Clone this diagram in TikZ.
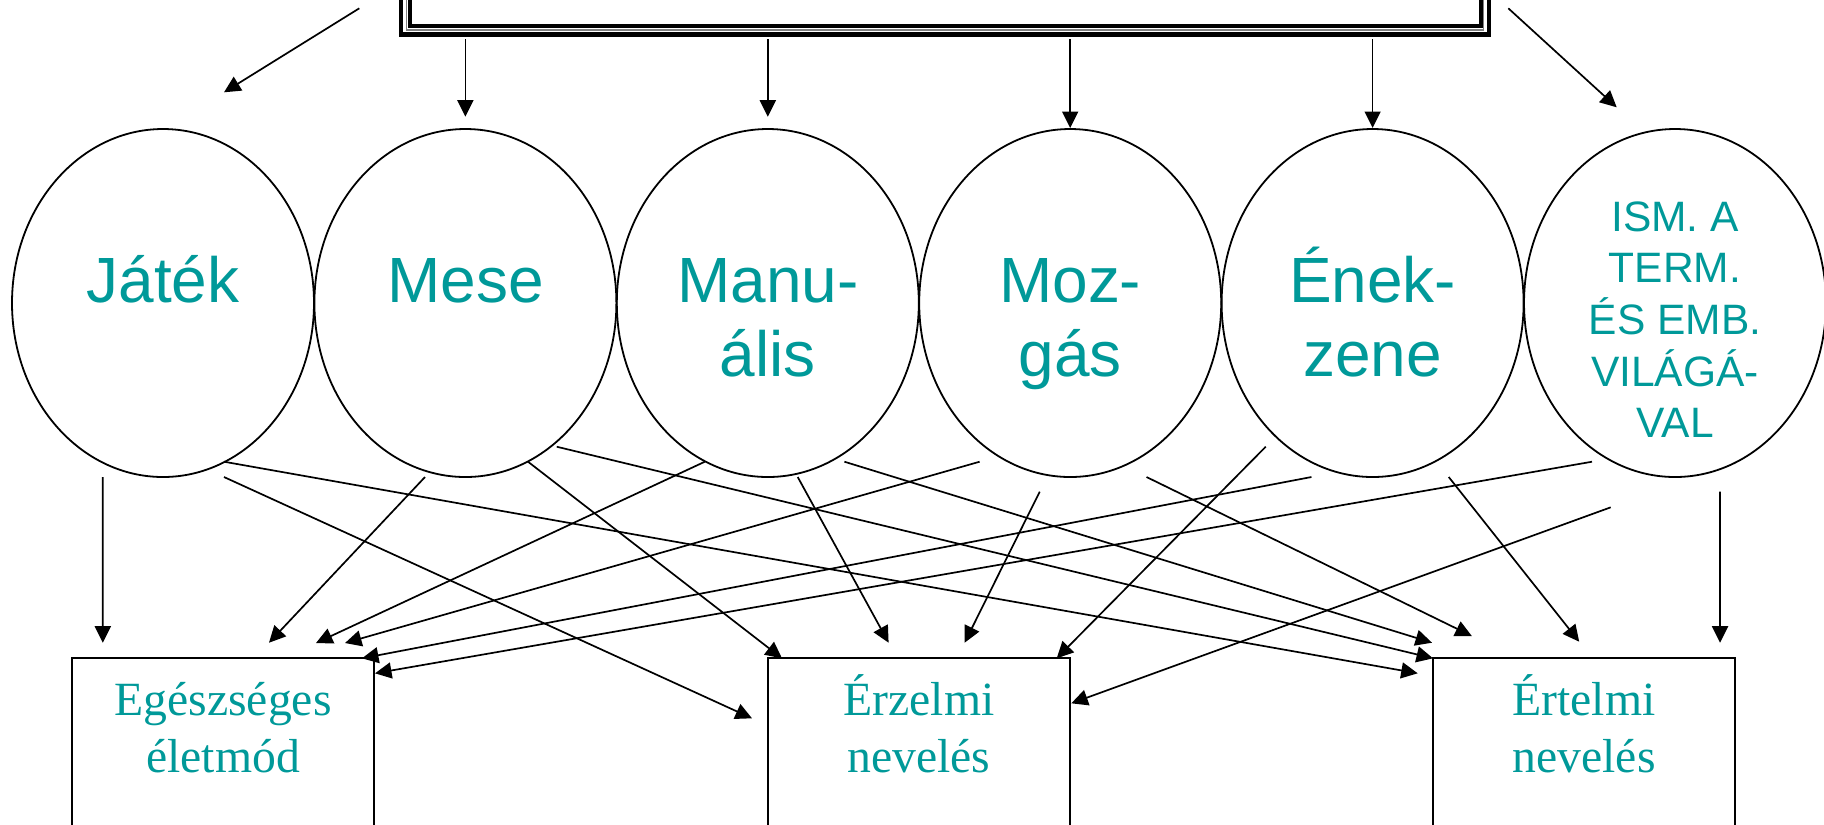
\documentclass[tikz,border=0pt]{standalone}
\usepackage{fontspec}
\usetikzlibrary{shapes.geometric,arrows.meta}
\newfontfamily\arialfont{Liberation Sans}
\newfontfamily\timesfont{Liberation Serif}
\definecolor{turkiz}{RGB}{0,153,153}
\setlength{\tabcolsep}{0pt}
\newcommand{\sorok}[1]{\begin{tabular}[t]{c}#1\end{tabular}}

\begin{document}
\begin{tikzpicture}[x=0.1mm,y=-0.1mm,
	tojas/.style={ellipse, draw, line width=0.18mm, minimum width=30.2mm, minimum height=34.8mm, inner sep=0pt, outer sep=0pt, text=turkiz, text height=1mm, text depth=1.2mm, font=\arialfont\fontsize{18.2pt}{21.3pt}\selectfont},
	kisbetu/.style={text depth=15.26mm, font=\arialfont\fontsize{12.1pt}{14.45pt}\selectfont},
	doboz/.style={rectangle, draw, line width=0.18mm, minimum width=30.2mm, inner sep=0pt, outer sep=0pt, anchor=north, text=turkiz, text height=5.67mm, text depth=12.5mm, font=\timesfont\fontsize{13.57pt}{16.22pt}\selectfont},
	nyil/.style={-{Triangle[length=1.65mm,width=1.6mm]}, line width=0.17mm}]
		\useasboundingbox (0,0) rectangle (1824,824);
		
		% felso keret
		\node [draw, line width=0.43mm, minimum width=108.75mm, minimum height=13.45mm, inner sep=0pt, outer sep=0pt] at (944.95,-32.75) (cim) {};
		\draw [line width=0.12mm, gray] ([shift={(5.3,-4.5)}]cim.south west) rectangle ([shift={(-5.3,-10)}]cim.north east);
		\draw [line width=0.4mm] ([shift={(8.3,-9)}]cim.south west) rectangle ([shift={(-8.2,-10)}]cim.north east);
		
		\node [tojas] at (163,303) (jatek) {\sorok{Játék}};
		\node [tojas] at (465.4,303) (mese) {\sorok{Mese}};
		\node [tojas] at (767.8,303) (manu) {\sorok{Manu-\\ális}};
		\node [tojas] at (1070.2,303) (mozgas) {\sorok{Moz-\\gás}};
		\node [tojas] at (1372.6,303) (enek) {\sorok{Ének-\\zene}};
		\node [tojas, kisbetu] at (1675,303) (ism) {\sorok{ISM. A\\TERM.\\ÉS EMB.\\VILÁGÁ-\\VAL}};
		
		\node [doboz] at (223,658.3) (egesz) {\sorok{Egészséges\\életmód}};
		\node [doboz] at (919,658.3) (erzelmi) {\sorok{Érzelmi\\nevelés}};
		\node [doboz] at (1584,658.3) (ertelmi) {\sorok{Értelmi\\nevelés}};
		
		% nyilak a keretbol
		\draw [nyil] ([shift={(-41.9,-26.2)}]cim.south west) -- ([shift={(61,-36.7)}]jatek.north);
		\draw [nyil, shorten <=0.45mm, shorten >=1.23mm] (cim.south -| mese.north) -- (mese.north);
		\draw [nyil, shorten <=0.45mm, shorten >=1.23mm] (cim.south -| manu.north) -- (manu.north);
		\draw [nyil, shorten <=0.45mm, shorten >=0.1mm] (cim.south -| mozgas.north) -- (mozgas.north);
		\draw [nyil, shorten <=0.45mm, shorten >=0.1mm] (cim.south -| enek.north) -- (enek.north);
		\draw [nyil] ([shift={(19.6,-26.2)}]cim.south east) -- ([shift={(-58.3,-21.7)}]ism.north);
		
		% nyilak a dobozokhoz
		\draw [nyil] ([shift={(-60.2,0)}]jatek.south) -- ([shift={(30.8,-15.6)}]egesz.north west);
		\draw [nyil] ([shift={(61,-15.3)}]jatek.south) -- ([shift={(-15.3,15)}]ertelmi.north west);
		\draw [nyil] ([shift={(61,0)}]jatek.south) -- ([shift={(-16,60)}]erzelmi.north west);
		\draw [nyil] ([shift={(-40.4,0)}]mese.south) -- ([shift={(197,-15.6)}]egesz.north west);
		\draw [nyil] ([shift={(62.6,-15.3)}]mese.south) -- ([shift={(14,0)}]erzelmi.north west);
		\draw [nyil] ([shift={(91.3,-30.3)}]mese.south) -- (ertelmi.north west);
		\draw [nyil] ([shift={(-63,-15.3)}]manu.south) -- ([shift={(244,-15.3)}]egesz.north west);
		\draw [nyil] ([shift={(29.9,0)}]manu.south) -- ([shift={(120.6,-15.6)}]erzelmi.north west);
		\draw [nyil] ([shift={(76.6,-15.3)}]manu.south) -- ([shift={(-1,-15.6)}]ertelmi.north west);
		\draw [nyil] ([shift={(-90.6,-15.3)}]mozgas.south) -- ([shift={(273,-15.3)}]egesz.north west);
		\draw [nyil] ([shift={(-30.5,14.7)}]mozgas.south) -- ([shift={(196.6,-15.6)}]erzelmi.north west);
		\draw [nyil] ([shift={(76.3,0)}]mozgas.south) -- ([shift={(38.8,-22.3)}]ertelmi.north west);
		\draw [nyil] ([shift={(-106.9,-30.3)}]enek.south) -- ([shift={(-13.3,0)}]erzelmi.north east);
		\draw [nyil] ([shift={(-61.2,0)}]enek.south) -- ([shift={(-12,0)}]egesz.north east);
		\draw [nyil] ([shift={(76.1,0)}]enek.south) -- ([shift={(146.2,-16.6)}]ertelmi.north west);
		\draw [nyil] ([shift={(-83,-15.3)}]ism.south) -- ([shift={(1,15)}]egesz.north east);
		\draw [nyil] ([shift={(-64.3,30.3)}]ism.south) -- ([shift={(1.3,45)}]erzelmi.north east);
		\draw [nyil] ([shift={(45,14.7)}]ism.south) -- ([shift={(-15,-15.6)}]ertelmi.north east);
\end{tikzpicture}
\end{document}
